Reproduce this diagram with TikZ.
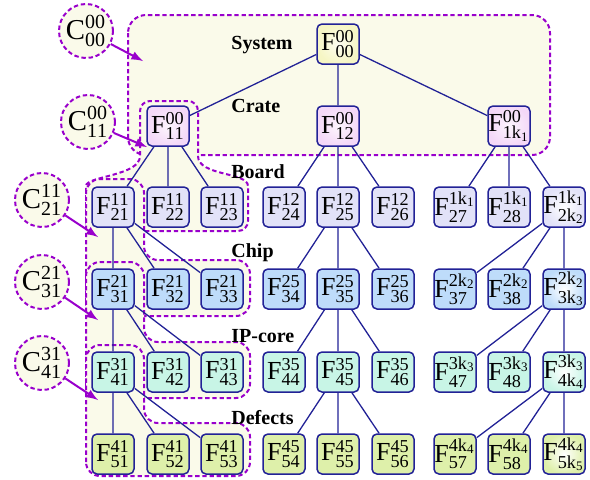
\documentclass[tikz,border=0pt]{standalone}
\usepackage{fontspec}
\setmainfont{Liberation Serif}
\usetikzlibrary{arrows}

\definecolor{edgeblue}{RGB}{34,34,150}
\definecolor{clpurple}{RGB}{153,0,204}
\definecolor{cream}{RGB}{250,250,234}
\definecolor{sysyellow}{RGB}{246,246,196}
\definecolor{cratepink}{RGB}{244,216,248}
\definecolor{boardlav}{RGB}{226,226,248}
\definecolor{chipblue}{RGB}{190,220,250}
\definecolor{ipgreen}{RGB}{200,245,230}
\definecolor{defgreen}{RGB}{222,240,170}

\newcommand{\flab}[2]{$\mathrm{F}^{\mathrm{#1}}_{\mathrm{#2}}$}
\newcommand{\clab}[2]{$\mathrm{C}^{\mathrm{#1}}_{\mathrm{#2}}$}

\begin{document}
\begin{tikzpicture}[x=0.5pt,y=-0.5pt]
	\tikzstyle{fbox}=[rectangle,rounded corners=2.5pt,draw=edgeblue,line width=0.75pt,minimum width=21pt,minimum height=20pt,inner sep=0pt,font=\fontsize{13}{15}\selectfont]
	\tikzstyle{sys}=[fbox,shade,inner color=sysyellow!25!white,outer color=sysyellow]
	\tikzstyle{crate}=[fbox,shade,inner color=cratepink!25!white,outer color=cratepink]
	\tikzstyle{board}=[fbox,fill=boardlav]
	\tikzstyle{chip}=[fbox,fill=chipblue]
	\tikzstyle{ipcore}=[fbox,fill=ipgreen]
	\tikzstyle{defect}=[fbox,fill=defgreen]
	\tikzstyle{kbox}=[fbox,shade,inner color=white]
	\tikzstyle{clus}=[draw=clpurple,fill=cream,line width=1pt,dash pattern=on 2.2pt off 1.4pt]
	\tikzstyle{ccirc}=[circle,draw=clpurple,fill=cream,line width=1pt,dash pattern=on 2.2pt off 1.4pt,minimum size=27pt,inner sep=0pt,font=\Large]
	\tikzstyle{branch}=[draw=edgeblue,line width=0.65pt]
	\tikzstyle{pointer}=[-latex,draw=clpurple,line width=1pt]
	\tikzstyle{tier}=[anchor=west,inner sep=0pt,font=\bfseries]

	\useasboundingbox (0,0) rectangle (590,479);

	% clusters, later ones cover the earlier
	\path[clus,rounded corners=9pt] (128,15) rectangle (550,155);
	\path[clus,rounded corners=5pt] (86,231) -- (86,196) .. controls (86,176) and (140,176) .. (140,146) -- (140,101) -- (198,101) -- (198,146) .. controls (198,176) and (248,172) .. (248,196) -- (248,231) -- cycle;
	\path[clus,rounded corners=7pt] (86,316) -- (86,179) -- (144,179) -- (144,260) -- (250,260) -- (250,316) -- cycle;
	\path[clus,rounded corners=7pt] (86,398) -- (86,262) -- (144,262) -- (144,342) -- (250,342) -- (250,398) -- cycle;
	\path[clus,rounded corners=7pt] (86,476) -- (86,345) -- (144,345) -- (144,423) -- (250,423) -- (250,476) -- cycle;

	\node[tier] (lsys) at (231,45) {System};
	\node[tier] (lcrate) at (231,106) {Crate};
	\node[tier] (lboard) at (231,172) {Board};
	\node[tier] (lchip) at (231,253) {Chip};
	\node[tier] (lip) at (231,336) {IP-core};
	\node[tier] (ldef) at (231,418) {Defects};

	% system and crates
	\node[sys] (f00) at (338,44) {\flab{00}{00}};
	\node[crate] (f11) at (168,126) {\flab{00}{11}};
	\node[crate] (f12) at (338,126) {\flab{00}{12}};
	\node[crate] (f1k1) at (509,126) {\flab{00}{1k_1}};

	% boards
	\node[board] (f21) at (113,207) {\flab{11}{21}};
	\node[board] (f22) at (168,207) {\flab{11}{22}};
	\node[board] (f23) at (222,207) {\flab{11}{23}};
	\node[board] (f24) at (284,207) {\flab{12}{24}};
	\node[board] (f25) at (338,207) {\flab{12}{25}};
	\node[board] (f26) at (393,207) {\flab{12}{26}};
	\node[board] (f27) at (455,207) {\flab{1k_1}{27}};
	\node[board] (f28) at (509,207) {\flab{1k_1}{28}};
	\node[kbox,outer color=boardlav] (f2k2) at (564,207) {\flab{1k_1}{2k_2}};

	% chips
	\node[chip] (f31) at (113,289) {\flab{21}{31}};
	\node[chip] (f32) at (168,289) {\flab{21}{32}};
	\node[chip] (f33) at (222,289) {\flab{21}{33}};
	\node[chip] (f34) at (284,289) {\flab{25}{34}};
	\node[chip] (f35) at (338,289) {\flab{25}{35}};
	\node[chip] (f36) at (393,289) {\flab{25}{36}};
	\node[chip] (f37) at (455,289) {\flab{2k_2}{37}};
	\node[chip] (f38) at (509,289) {\flab{2k_2}{38}};
	\node[kbox,outer color=chipblue] (f3k3) at (564,289) {\flab{2k_2}{3k_3}};

	% IP-cores
	\node[ipcore] (f41) at (113,372) {\flab{31}{41}};
	\node[ipcore] (f42) at (168,372) {\flab{31}{42}};
	\node[ipcore] (f43) at (222,372) {\flab{31}{43}};
	\node[ipcore] (f44) at (284,372) {\flab{35}{44}};
	\node[ipcore] (f45) at (338,372) {\flab{35}{45}};
	\node[ipcore] (f46) at (393,372) {\flab{35}{46}};
	\node[ipcore] (f47) at (455,372) {\flab{3k_3}{47}};
	\node[ipcore] (f48) at (509,372) {\flab{3k_3}{48}};
	\node[kbox,outer color=ipgreen] (f4k4) at (564,372) {\flab{3k_3}{4k_4}};

	% defects
	\node[defect] (f51) at (113,454) {\flab{41}{51}};
	\node[defect] (f52) at (168,454) {\flab{41}{52}};
	\node[defect] (f53) at (222,454) {\flab{41}{53}};
	\node[defect] (f54) at (284,454) {\flab{45}{54}};
	\node[defect] (f55) at (338,454) {\flab{45}{55}};
	\node[defect] (f56) at (393,454) {\flab{45}{56}};
	\node[defect] (f57) at (455,454) {\flab{4k_4}{57}};
	\node[defect] (f58) at (509,454) {\flab{4k_4}{58}};
	\node[kbox,outer color=defgreen] (f5k5) at (564,454) {\flab{4k_4}{5k_5}};

	\draw[branch] (f00) -- (f11) (f00) -- (f12) (f00) -- (f1k1);
	\draw[branch] (f11) -- (f21) (f11) -- (f22) (f11) -- (f23);
	\draw[branch] (f12) -- (f24) (f12) -- (f25) (f12) -- (f26);
	\draw[branch] (f1k1) -- (f27) (f1k1) -- (f28) (f1k1) -- (f2k2);
	\draw[branch] (f21) -- (f31) (f21) -- (f32) (f21) -- (f33);
	\draw[branch] (f25) -- (f34) (f25) -- (f35) (f25) -- (f36);
	\draw[branch] (f2k2) -- (f37) (f2k2) -- (f38) (f2k2) -- (f3k3);
	\draw[branch] (f31) -- (f41) (f31) -- (f42) (f31) -- (f43);
	\draw[branch] (f35) -- (f44) (f35) -- (f45) (f35) -- (f46);
	\draw[branch] (f3k3) -- (f47) (f3k3) -- (f48) (f3k3) -- (f4k4);
	\draw[branch] (f41) -- (f51) (f41) -- (f52) (f41) -- (f53);
	\draw[branch] (f45) -- (f54) (f45) -- (f55) (f45) -- (f56);
	\draw[branch] (f4k4) -- (f57) (f4k4) -- (f58) (f4k4) -- (f5k5);

	% cluster names
	\node[ccirc] (cl00) at (86,31) {\clab{00}{00}};
	\node[ccirc] (cl11) at (88,122) {\clab{00}{11}};
	\node[ccirc] (cl21) at (42,200) {\clab{11}{21}};
	\node[ccirc] (cl31) at (42,282) {\clab{21}{31}};
	\node[ccirc] (cl41) at (42,363) {\clab{31}{41}};

	\coordinate (t00) at (143,61);
	\coordinate (t11) at (147,147);
	\coordinate (t21) at (98,237);
	\coordinate (t31) at (98,320);
	\coordinate (t41) at (98,400);

	\draw[pointer] (cl00) -- (t00);
	\draw[pointer] (cl11) -- (t11);
	\draw[pointer] (cl21) -- (t21);
	\draw[pointer] (cl31) -- (t31);
	\draw[pointer] (cl41) -- (t41);
\end{tikzpicture}
\end{document}
